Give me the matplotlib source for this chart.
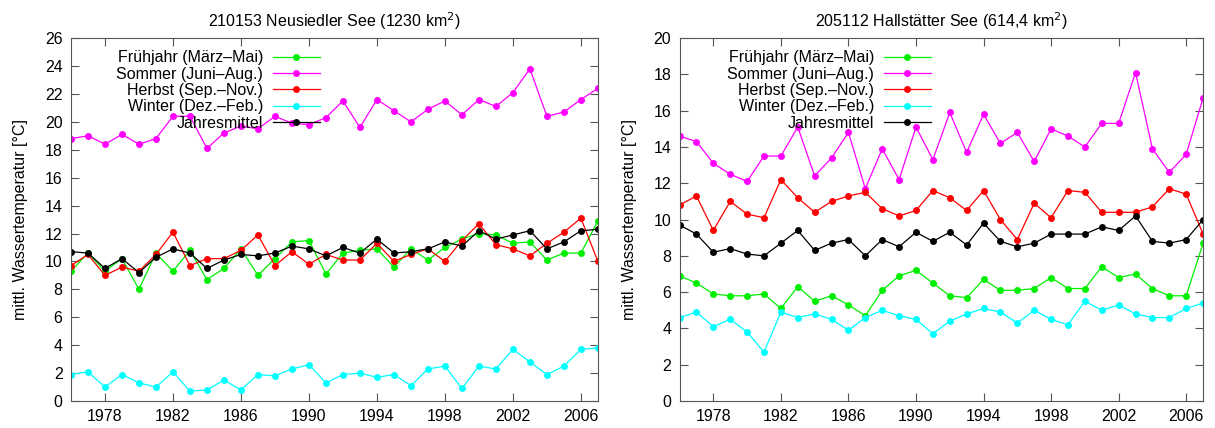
import matplotlib
matplotlib.use("Agg")
import matplotlib.pyplot as plt

plt.rcParams["font.family"] = ["Liberation Sans", "DejaVu Sans"]

years = list(range(1976, 2008))

# 210153 Neusiedler See
neu_fruehjahr = [9.3, 10.6, 9.3, 10.2, 8.0, 10.6, 9.3, 10.8, 8.7, 9.5, 10.9, 9.0, 10.2, 11.4, 11.5, 9.1,
                 10.6, 10.8, 10.9, 9.6, 10.9, 10.1, 11.0, 11.6, 12.0, 11.9, 11.3, 11.4, 10.1, 10.6, 10.6, 12.9]
neu_sommer = [18.8, 19.0, 18.4, 19.1, 18.4, 18.8, 20.4, 20.4, 18.1, 19.2, 19.7, 19.5, 20.4, 19.9, 19.8, 20.3,
              21.5, 19.6, 21.6, 20.8, 20.0, 20.9, 21.5, 20.5, 21.6, 21.1, 22.1, 23.8, 20.4, 20.7, 21.6, 22.4]
neu_herbst = [9.7, 10.5, 9.0, 9.6, 9.3, 10.5, 12.1, 9.7, 10.2, 10.2, 10.8, 11.9, 9.7, 10.7, 9.8, 10.5,
              10.1, 10.1, 11.3, 10.0, 10.5, 10.9, 10.0, 11.5, 12.7, 11.2, 10.9, 10.4, 11.3, 12.1, 13.1, 10.0]
neu_winter = [1.9, 2.1, 1.0, 1.9, 1.3, 1.0, 2.1, 0.7, 0.8, 1.5, 0.8, 1.9, 1.8, 2.3, 2.6, 1.3,
              1.9, 2.0, 1.7, 1.9, 1.1, 2.3, 2.5, 0.9, 2.5, 2.3, 3.7, 2.8, 1.9, 2.5, 3.7, 3.8]
neu_jahr = [10.7, 10.6, 9.5, 10.2, 9.2, 10.3, 10.9, 10.6, 9.5, 10.1, 10.5, 10.4, 10.6, 11.1, 10.9, 10.4,
            11.0, 10.6, 11.6, 10.6, 10.7, 10.9, 11.4, 11.1, 12.2, 11.6, 11.9, 12.2, 10.9, 11.4, 12.2, 12.3]

# 205112 Hallstaetter See
hal_fruehjahr = [6.9, 6.5, 5.9, 5.8, 5.8, 5.9, 5.1, 6.3, 5.5, 5.8, 5.3, 4.7, 6.1, 6.9, 7.2, 6.5,
                 5.8, 5.7, 6.7, 6.1, 6.1, 6.2, 6.8, 6.2, 6.2, 7.4, 6.8, 7.0, 6.2, 5.8, 5.8, 8.7]
hal_sommer = [14.6, 14.3, 13.1, 12.5, 12.1, 13.5, 13.5, 15.1, 12.4, 13.4, 14.8, 11.7, 13.9, 12.2, 15.1, 13.3,
              15.9, 13.7, 15.8, 14.2, 14.8, 13.2, 15.0, 14.6, 14.0, 15.3, 15.3, 18.1, 13.9, 12.6, 13.6, 16.7]
hal_herbst = [10.8, 11.3, 9.4, 11.0, 10.3, 10.1, 12.2, 11.2, 10.4, 11.0, 11.3, 11.5, 10.6, 10.2, 10.5, 11.6,
              11.2, 10.5, 11.6, 10.0, 8.9, 10.9, 10.1, 11.6, 11.5, 10.4, 10.4, 10.4, 10.7, 11.7, 11.4, 9.2]
hal_winter = [4.6, 4.9, 4.1, 4.5, 3.8, 2.7, 4.9, 4.6, 4.8, 4.5, 3.9, 4.6, 5.0, 4.7, 4.5, 3.7,
              4.4, 4.8, 5.1, 4.9, 4.3, 5.0, 4.5, 4.2, 5.5, 5.0, 5.3, 4.8, 4.6, 4.6, 5.1, 5.4]
hal_jahr = [9.7, 9.2, 8.2, 8.4, 8.1, 8.0, 8.7, 9.4, 8.3, 8.7, 8.9, 8.0, 8.9, 8.5, 9.3, 8.8,
            9.3, 8.6, 9.8, 8.8, 8.5, 8.7, 9.2, 9.2, 9.2, 9.6, 9.4, 10.2, 8.8, 8.7, 8.9, 10.0]

labels = ["Frühjahr (März–Mai)", "Sommer (Juni–Aug.)", "Herbst (Sep.–Nov.)",
          "Winter (Dez.–Feb.)", "Jahresmittel"]
colors = ["#00ee00", "#ff00ff", "#ff0000", "#00ffff", "#000000"]

titles = ["210153 Neusiedler See (1230 km$^2$)", "205112 Hallstätter See (614,4 km$^2$)"]
ymax = [26, 20]
xticks = list(range(1978, 2007, 4))
fs = 11.5

fig = plt.figure(figsize=(12.15, 4.28), dpi=100)
ax1 = fig.add_axes([0.0584, 0.063, 0.4337, 0.848])
ax2 = fig.add_axes([0.5593, 0.063, 0.4309, 0.848])

panels = [
    (ax1, [neu_fruehjahr, neu_sommer, neu_herbst, neu_winter, neu_jahr], 0.472),
    (ax2, [hal_fruehjahr, hal_sommer, hal_herbst, hal_winter, hal_jahr], 0.480),
]

for i, (ax, series, leg_x) in enumerate(panels):
    for vals, lab, col in zip(series, labels, colors):
        ax.plot(years, vals, color=col, lw=0.9, marker="o", markersize=5,
                markeredgewidth=0, label=lab)
    ax.set_xlim(1976, 2007)
    ax.set_ylim(0, ymax[i])
    ax.set_xticks(xticks)
    ax.set_yticks(range(0, ymax[i] + 1, 2))
    ax.tick_params(direction="in", top=True, right=True, labelsize=fs,
                   length=6, color="#555555", pad=6)
    for sp in ax.spines.values():
        sp.set_color("#555555")
    ax.set_title(titles[i], fontsize=fs, pad=8)
    ax.set_ylabel("mittl. Wassertemperatur [°C]", fontsize=fs, labelpad=12)
    ax.legend(loc="upper right", bbox_to_anchor=(leg_x, 0.966), frameon=False,
              markerfirst=False, fontsize=fs, handlelength=2.95,
              handletextpad=0.6, labelspacing=0.08, borderpad=0, borderaxespad=0)

fig.savefig("out.png", dpi=100)
